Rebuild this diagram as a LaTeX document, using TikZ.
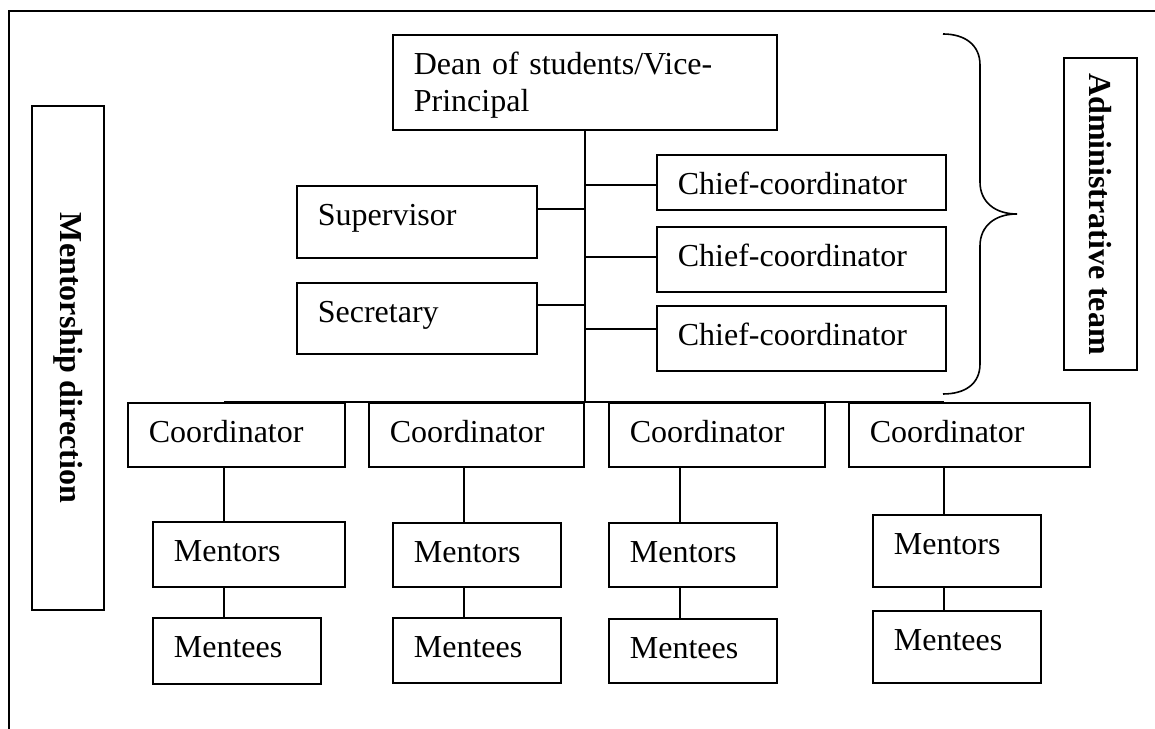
\documentclass[tikz,border=0pt]{standalone}
\usepackage{fontspec}
\setmainfont{Liberation Serif}
\usepackage{tikz}

\tikzset{
  box/.style 2 args={draw, anchor=north west, inner xsep=7.9pt, inner ysep=0pt,
    align=left, text height=15pt, text width=#1, text depth=#2},
  sidebox/.style 2 args={draw, rotate=-90, inner sep=0pt, font=\fontsize{12}{13.8}\selectfont\bfseries,
    minimum width=#1, minimum height=#2}
}

\begin{document}
\begin{tikzpicture}[x=0.375pt, y=-0.375pt, line width=0.6pt,
    every node/.style={font=\fontsize{12}{13.8}\selectfont}]
    \useasboundingbox (0,0) rectangle (1155,729);
    % Frame
    \draw (1155,11) -- (9,11) -- (9,729);
    % Side labels
    \node[sidebox={189pt}{27pt}] (mdir) at (68,358) {Mentorship direction};
    \node[sidebox={117pt}{27.4pt}] (adm) at (1100.5,214) {Administrative team};
    % Administrative team
    \node[box={128.2pt}{20.6pt}] (dean) at (392,34) {Dean of students/Vice-\\Principal};
    \node[box={74.2pt}{12pt}] (sup) at (296,185) {Supervisor};
    \node[box={74.2pt}{11.6pt}] (sec) at (296,282) {Secretary};
    \node[box={92.6pt}{5.6pt}] (chief1) at (656,154) {Chief-coordinator};
    \node[box={92.6pt}{9.4pt}] (chief2) at (656,226) {Chief-coordinator};
    \node[box={92.6pt}{9.4pt}] (chief3) at (656,305) {Chief-coordinator};
    % Coordinators
    \node[box={65.6pt}{9pt}] (coord1) at (127,402) {Coordinator};
    \node[box={64.8pt}{9pt}] (coord2) at (368,402) {Coordinator};
    \node[box={65.2pt}{9pt}] (coord3) at (608,402) {Coordinator};
    \node[box={74.6pt}{9pt}] (coord4) at (848,402) {Coordinator};
    % Mentors
    \node[box={56.2pt}{9.4pt}] (ment1) at (152,521) {Mentors};
    \node[box={47.2pt}{9pt}] (ment2) at (392,522) {Mentors};
    \node[box={47.2pt}{9pt}] (ment3) at (608,522) {Mentors};
    \node[box={47.2pt}{12pt}] (ment4) at (872,514) {Mentors};
    % Mentees
    \node[box={47.2pt}{9.75pt}] (mentee1) at (152,617) {Mentees};
    \node[box={47.2pt}{9.4pt}] (mentee2) at (392,617) {Mentees};
    \node[box={47.2pt}{9pt}] (mentee3) at (608,618) {Mentees};
    \node[box={47.2pt}{12pt}] (mentee4) at (872,610) {Mentees};
    % Brace
    \draw (943,34) .. controls (965,34) and (980,45) .. (980,65) -- (980,182)
      .. controls (980,202) and (995,214) .. (1017,214)
      .. controls (995,214) and (980,226) .. (980,246) -- (980,364)
      .. controls (980,384) and (965,394) .. (943,394);
    % Spine
    \coordinate (j1) at (584,185);
    \coordinate (j2) at (584,209);
    \coordinate (j3) at (584,257);
    \coordinate (j4) at (584,305);
    \coordinate (j5) at (584,329);
    \draw (dean.south) -- (dean.south |- coord1.north);
    \draw (sup.east |- j2) -- (j2);
    \draw (sec.east |- j4) -- (j4);
    \draw (j1) -- (chief1.west |- j1);
    \draw (j3) -- (chief2.west |- j3);
    \draw (j5) -- (chief3.west |- j5);
    % Columns
    \coordinate (x1) at (224,0);
    \coordinate (x2) at (464,0);
    \coordinate (x3) at (680,0);
    \coordinate (x4) at (944,0);
    \draw (coord1.north -| x1) -- (coord4.north -| x4);
    \foreach \i in {1,...,4}{
      \draw (coord\i.south -| x\i) -- (ment\i.north -| x\i);
      \draw (ment\i.south -| x\i) -- (mentee\i.north -| x\i);
    }
\end{tikzpicture}
\end{document}
